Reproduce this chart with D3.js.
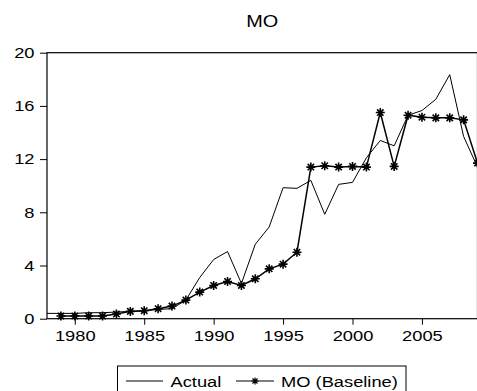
<!DOCTYPE html>
<html>
<head>
<meta charset="utf-8">
<script src="https://cdn.jsdelivr.net/npm/d3@7"></script>
<style>
  html, body { margin: 0; padding: 0; background: #fff; }
  svg text { font-family: "Liberation Sans", Arial, sans-serif; fill: #000; }
</style>
</head>
<body>
<svg id="chart" width="477" height="391"></svg>
<script>
// Annual series, 1978-2009
const actualYears = d3.range(1978, 2010);
const actualValues = [0.4, 0.4, 0.4, 0.45, 0.45, 0.5, 0.55, 0.6, 0.7, 0.75, 1.4, 3.1, 4.45, 5.05, 2.65, 5.6,
  6.9, 9.85, 9.8, 10.4, 7.85, 10.1, 10.25, 12.1, 13.4, 13.0, 15.3, 15.65, 16.5, 18.35, 13.7, 11.4];
const baselineYears = d3.range(1979, 2010);
const baselineValues = [0.2, 0.2, 0.2, 0.2, 0.35, 0.55, 0.6, 0.75, 0.95, 1.4, 2.0, 2.5, 2.8, 2.5, 3.0, 3.75,
  4.1, 5.0, 11.4, 11.5, 11.4, 11.45, 11.4, 15.5, 11.45, 15.3, 15.15, 15.1, 15.1, 14.95, 11.7];
const xTicks = [1980, 1985, 1990, 1995, 2000, 2005];
const yTicks = [0, 4, 8, 12, 16, 20];
const seriesNames = ["Actual", "MO (Baseline)"];
const chartTitle = "MO";

(function () {
  const svg = d3.select("#chart");
  const stretch = 1.22; // glyphs are drawn wide
  const fontSize = "15px";
  const plotL = 47, plotR = 477.5, plotT = 52.7, plotB = 318.7;

  const x = d3.scaleLinear().domain([1978, 2009]).range([plotL, plotR]);
  const y = d3.scaleLinear().domain([0, 20]).range([plotB, plotT]);

  // Title
  svg.append("text")
    .attr("transform", `translate(${(plotL + plotR) / 2},26.7) scale(${stretch},1)`)
    .attr("text-anchor", "middle")
    .style("font-size", "16.3px")
    .text(chartTitle);

  // Y axis
  const yAxis = svg.append("g")
    .attr("transform", `translate(${plotL},0)`)
    .call(d3.axisLeft(y).tickValues(yTicks).tickSize(7).tickPadding(5).tickFormat(d3.format("d")));
  yAxis.select(".domain").remove();
  yAxis.selectAll(".tick line").attr("stroke", "#000");
  yAxis.selectAll(".tick text")
    .attr("x", null)
    .attr("transform", `translate(-12.5,0) scale(${stretch},1)`)
    .style("font-size", fontSize);
  yAxis.attr("font-family", null).attr("font-size", null);

  // X axis
  const xAxis = svg.append("g")
    .attr("transform", `translate(0,${plotB})`)
    .call(d3.axisBottom(x).tickValues(xTicks).tickSize(6).tickPadding(6).tickFormat(d3.format("d")));
  xAxis.select(".domain").remove();
  xAxis.selectAll(".tick line").attr("stroke", "#000");
  xAxis.selectAll(".tick text")
    .attr("transform", `scale(${stretch},1)`)
    .style("font-size", fontSize);
  xAxis.attr("font-family", null).attr("font-size", null);

  // Plot frame
  svg.append("rect")
    .attr("x", plotL).attr("y", plotT)
    .attr("width", plotR - plotL).attr("height", plotB - plotT)
    .attr("fill", "none").attr("stroke", "#000").attr("stroke-width", 1.2);

  const line = d3.line().x(d => x(d[0])).y(d => y(d[1]));
  const actualData = actualYears.map((yr, i) => [yr, actualValues[i]]);
  const baselineData = baselineYears.map((yr, i) => [yr, baselineValues[i]]);

  const plot = svg.append("g");

  plot.append("path")
    .datum(actualData)
    .attr("d", line)
    .attr("fill", "none").attr("stroke", "#000").attr("stroke-width", 1);

  plot.append("path")
    .datum(baselineData)
    .attr("d", line)
    .attr("fill", "none").attr("stroke", "#000").attr("stroke-width", 1.5);

  const star = "M-4.5,0H4.5M0,-4.5V4.5M-3.2,-3.2L3.2,3.2M-3.2,3.2L3.2,-3.2";
  plot.selectAll("path.star")
    .data(baselineData)
    .join("path")
    .attr("class", "star")
    .attr("d", star)
    .attr("transform", d => `translate(${x(d[0])},${y(d[1])})`)
    .attr("fill", "none").attr("stroke", "#000").attr("stroke-width", 1.6);

  // Legend
  const legend = svg.append("g");
  legend.append("rect")
    .attr("x", 117.5).attr("y", 366)
    .attr("width", 288.5).attr("height", 40)
    .attr("fill", "#fff").attr("stroke", "#000").attr("stroke-width", 1);

  legend.append("line")
    .attr("x1", 126).attr("x2", 163).attr("y1", 381).attr("y2", 381)
    .attr("stroke", "#000").attr("stroke-width", 1);
  legend.append("text")
    .attr("transform", `translate(170.5,387.3) scale(${stretch},1)`)
    .style("font-size", fontSize)
    .text(seriesNames[0]);

  legend.append("line")
    .attr("x1", 236).attr("x2", 274).attr("y1", 381).attr("y2", 381)
    .attr("stroke", "#000").attr("stroke-width", 1.2);
  legend.append("path")
    .attr("d", "M-3.5,0H3.5M0,-3.5V3.5M-2.5,-2.5L2.5,2.5M-2.5,2.5L2.5,-2.5")
    .attr("transform", "translate(255,381)")
    .attr("fill", "none").attr("stroke", "#000").attr("stroke-width", 1.2);
  legend.append("text")
    .attr("transform", `translate(281,387.3) scale(${stretch},1)`)
    .style("font-size", fontSize)
    .text(seriesNames[1]);
})();
</script>
</body>
</html>
